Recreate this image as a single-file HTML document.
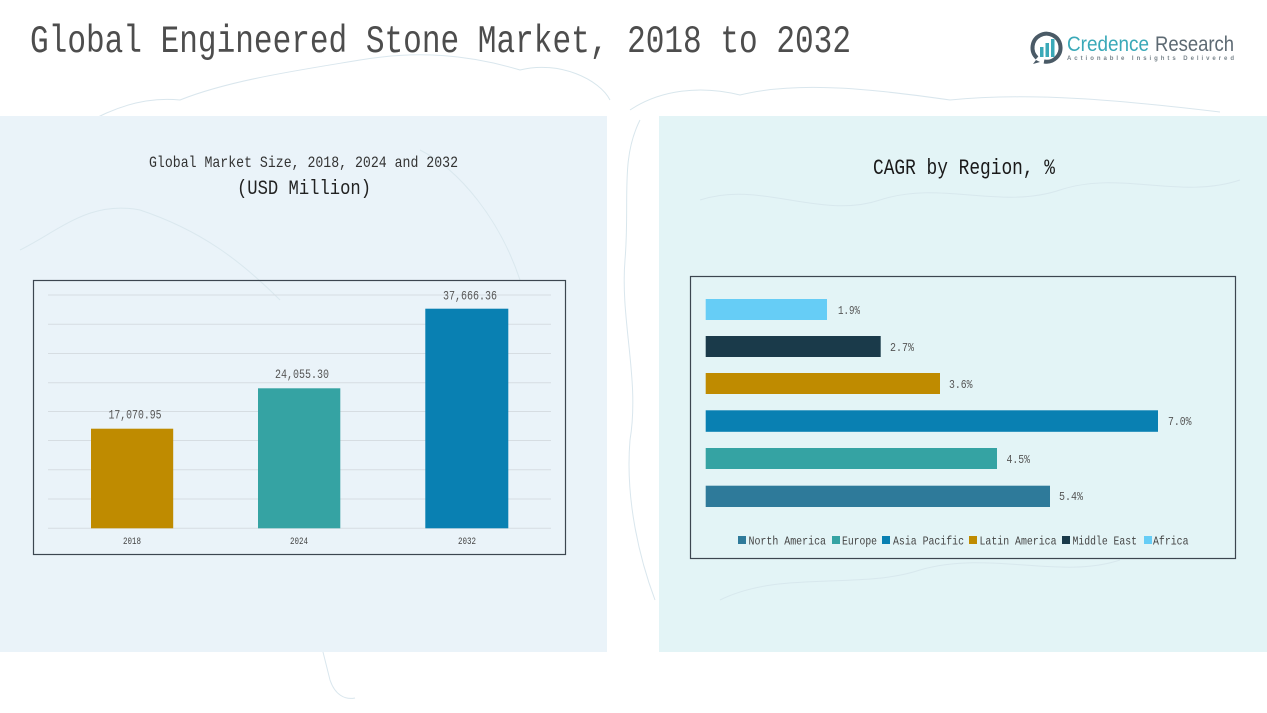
<!DOCTYPE html>
<html><head><meta charset="utf-8"><style>
html,body{margin:0;padding:0;background:#fff;}
svg{display:block;}
text{font-family:"Liberation Mono","DejaVu Sans Mono",monospace;}
</style></head><body>
<svg width="1267" height="713" viewBox="0 0 1267 713" xmlns="http://www.w3.org/2000/svg">
<rect x="0" y="0" width="1267" height="713" fill="#ffffff"/>
<!-- faint map hints -->
<g fill="none" stroke="#cfe0e8" stroke-width="1" opacity="0.8">
<path d="M40 160 C80 120 130 95 180 100 C230 80 300 70 360 60 C420 50 470 55 520 70 C560 60 600 80 610 100"/>
<path d="M630 110 C660 90 700 85 740 95 C800 80 880 90 950 100 C1030 92 1120 100 1220 112"/>
<path d="M300 560 C310 600 320 640 330 680 C335 695 345 700 355 698"/>
<path d="M640 120 C620 160 630 200 625 260 C620 320 640 380 630 440 C625 500 640 560 655 600"/>
</g>
<!-- panels -->
<rect x="0" y="116" width="607" height="536" fill="#eaf3f9"/>
<rect x="659" y="116" width="608" height="536" fill="#e3f4f6"/>
<g fill="none" stroke="#d3e3ea" stroke-width="1" opacity="0.7">
<path d="M20 250 C60 230 90 200 140 210 C200 230 240 260 280 300"/>
<path d="M420 150 C460 170 500 220 520 280"/>
<path d="M700 200 C760 180 820 220 880 200 C940 180 1000 210 1060 190 C1120 170 1180 200 1240 180"/>
<path d="M720 600 C780 570 860 590 920 570 C990 550 1060 580 1120 560"/>
</g>
<!-- title -->
<text x="30" y="52" font-size="39" fill="#4d4d4d" textLength="821" lengthAdjust="spacingAndGlyphs">Global Engineered Stone Market, 2018 to 2032</text>
<!-- logo -->
<g>
<path d="M1037 58 A14 14 0 1 1 1044 61.5" fill="none" stroke="#4a5a66" stroke-width="4"/>
<path d="M1036 60 L1033 64 L1040 62 Z" fill="#4a5a66"/>
<rect x="1040" y="47" width="3.5" height="10" fill="#3aa9b8"/>
<rect x="1045.5" y="43" width="3.5" height="14" fill="#3aa9b8"/>
<rect x="1051" y="39" width="3.5" height="18" fill="#3aa9b8"/>
<text x="1067" y="51" font-size="21" fill="#3aa9b8" style="font-family:'Liberation Sans',sans-serif" textLength="82" lengthAdjust="spacingAndGlyphs">Credence</text>
<text x="1155" y="51" font-size="21" fill="#5d6a73" style="font-family:'Liberation Sans',sans-serif" textLength="79" lengthAdjust="spacingAndGlyphs">Research</text>
<text x="1067" y="60" font-size="6" font-weight="bold" fill="#7a858c" style="font-family:'Liberation Sans',sans-serif" textLength="167" lengthAdjust="spacing">Actionable Insights Delivered</text>
</g>
<!-- left chart titles -->
<text x="149" y="167" font-size="16" fill="#333" textLength="309" lengthAdjust="spacingAndGlyphs">Global Market Size, 2018, 2024 and 2032</text>
<text x="237" y="194" font-size="20" fill="#222" textLength="134" lengthAdjust="spacingAndGlyphs">(USD Million)</text>
<!-- left chart box -->
<rect x="33.5" y="280.5" width="532" height="274" fill="none" stroke="#3c4650" stroke-width="1.2"/>
<g stroke="#d6dde2" stroke-width="1">
<line x1="48" y1="295" x2="551" y2="295"/>
<line x1="48" y1="324.3" x2="551" y2="324.3"/>
<line x1="48" y1="353.5" x2="551" y2="353.5"/>
<line x1="48" y1="382.7" x2="551" y2="382.7"/>
<line x1="48" y1="411.5" x2="551" y2="411.5"/>
<line x1="48" y1="440.5" x2="551" y2="440.5"/>
<line x1="48" y1="469.7" x2="551" y2="469.7"/>
<line x1="48" y1="499" x2="551" y2="499"/>
<line x1="48" y1="528.3" x2="551" y2="528.3"/>
</g>
<rect x="91" y="428.7" width="82.2" height="99.6" fill="#bf8b00"/>
<rect x="258" y="388.3" width="82.3" height="140" fill="#35a3a3"/>
<rect x="425.3" y="308.7" width="83" height="219.6" fill="#0980b2"/>
<g font-size="13" fill="#555">
<text x="108.5" y="418.5" textLength="53" lengthAdjust="spacingAndGlyphs">17,070.95</text>
<text x="275" y="378" textLength="54" lengthAdjust="spacingAndGlyphs">24,055.30</text>
<text x="443" y="299.5" textLength="54" lengthAdjust="spacingAndGlyphs">37,666.36</text>
</g>
<g font-size="10" fill="#444">
<text x="123" y="544" textLength="18" lengthAdjust="spacingAndGlyphs">2018</text>
<text x="290" y="544" textLength="18" lengthAdjust="spacingAndGlyphs">2024</text>
<text x="458" y="544" textLength="18" lengthAdjust="spacingAndGlyphs">2032</text>
</g>
<!-- right chart -->
<text x="873" y="174" font-size="22" fill="#1a1a1a" textLength="182" lengthAdjust="spacingAndGlyphs">CAGR by Region, %</text>
<rect x="690.5" y="276.5" width="545" height="282" fill="none" stroke="#3c4650" stroke-width="1.2"/>
<rect x="705.7" y="299" width="121.3" height="21" fill="#66cdf6"/>
<rect x="705.7" y="336" width="175" height="21" fill="#1a3a4a"/>
<rect x="705.7" y="373" width="234.3" height="21" fill="#bf8b00"/>
<rect x="705.7" y="410.3" width="452.3" height="21.5" fill="#0980b2"/>
<rect x="705.7" y="448" width="291.3" height="21" fill="#35a3a3"/>
<rect x="705.7" y="485.7" width="344.3" height="21.3" fill="#2e7a9a"/>
<g font-size="12" fill="#555">
<text x="838" y="314" textLength="22" lengthAdjust="spacingAndGlyphs">1.9%</text>
<text x="890" y="351" textLength="24" lengthAdjust="spacingAndGlyphs">2.7%</text>
<text x="949" y="388" textLength="23.5" lengthAdjust="spacingAndGlyphs">3.6%</text>
<text x="1168" y="425" textLength="23.5" lengthAdjust="spacingAndGlyphs">7.0%</text>
<text x="1006.5" y="463" textLength="23.5" lengthAdjust="spacingAndGlyphs">4.5%</text>
<text x="1059" y="500" textLength="24" lengthAdjust="spacingAndGlyphs">5.4%</text>
</g>
<!-- legend -->
<rect x="738" y="536" width="8" height="8" fill="#2e7a9a"/>
<rect x="832" y="536" width="8" height="8" fill="#35a3a3"/>
<rect x="882" y="536" width="8" height="8" fill="#0980b2"/>
<rect x="969" y="536" width="8" height="8" fill="#bf8b00"/>
<rect x="1062" y="536" width="8" height="8" fill="#1a3a4a"/>
<rect x="1144" y="536" width="8" height="8" fill="#66cdf6"/>
<g font-size="12" fill="#444">
<text x="748.5" y="544.5" textLength="77.5" lengthAdjust="spacingAndGlyphs">North America</text>
<text x="842" y="544.5" textLength="35" lengthAdjust="spacingAndGlyphs">Europe</text>
<text x="893" y="544.5" textLength="71" lengthAdjust="spacingAndGlyphs">Asia Pacific</text>
<text x="979.5" y="544.5" textLength="77" lengthAdjust="spacingAndGlyphs">Latin America</text>
<text x="1072.5" y="544.5" textLength="64.5" lengthAdjust="spacingAndGlyphs">Middle East</text>
<text x="1153" y="544.5" textLength="35.5" lengthAdjust="spacingAndGlyphs">Africa</text>
</g>
</svg>
</body></html>
